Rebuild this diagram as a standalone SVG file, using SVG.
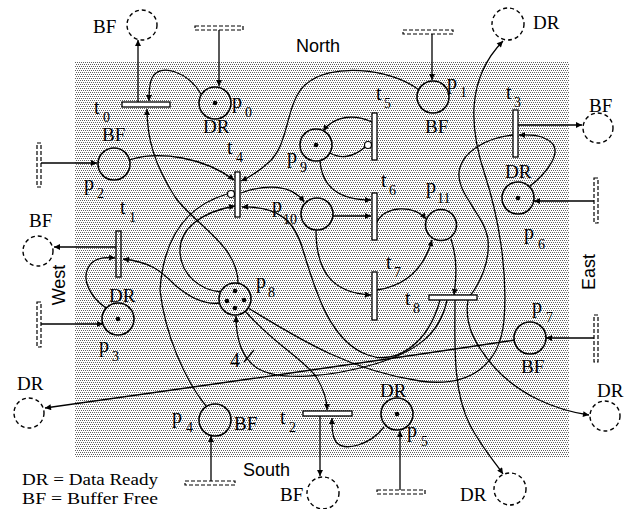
<svg xmlns="http://www.w3.org/2000/svg" width="625" height="509" viewBox="0 0 625 509">
<defs>
<pattern id="dots" width="4" height="4" patternUnits="userSpaceOnUse">
<rect width="4" height="4" fill="#fff"/>
<rect x="0" y="0" width="1" height="1" fill="#606060"/>
<rect x="2" y="0" width="1" height="1" fill="#606060"/>
<rect x="1" y="2" width="1" height="1" fill="#606060"/>
<rect x="3" y="2" width="1" height="1" fill="#606060"/>
</pattern>
<marker id="ah" viewBox="0 0 10 10" refX="10" refY="5" markerWidth="8" markerHeight="6" markerUnits="userSpaceOnUse" orient="auto">
<path d="M0,0 L10,5 L0,10 z" fill="#000"/>
</marker>
<style>
.pl{fill:none;stroke:#000;stroke-width:1.6}
.env{fill:none;stroke:#000;stroke-width:1.4;stroke-dasharray:4 3}
.tr{fill:#fff;stroke:#000;stroke-width:1.3}
.src{fill:none;stroke:#000;stroke-width:1.2;stroke-dasharray:4 2}
.arc{fill:none;stroke:#000;stroke-width:1.3}
.arr{marker-end:url(#ah)}
.tok{fill:#000}
text{font-family:"Liberation Serif","Times New Roman",serif;font-size:19px;fill:#000}
.sans{font-family:"Liberation Sans",Arial,sans-serif;font-size:18px}
.lab{font-size:20px}
.sub{font-size:14px}
.leg{font-size:16px}
</style>
</defs>
<rect id="background" x="75" y="61" width="494" height="397" fill="url(#dots)"/>

<g id="connectors">
<path class="arc arr" d="M201,94 C188,72 160,62 152,78 C149,84 149,92 149,101"/>
<path class="arc arr" d="M138,102 L138,40"/>
<path class="arc arr" d="M219,30 L219,86"/>
<path class="arc arr" d="M238,283 C238,245 195,225 175,197 C155,165 147,140 147,109"/>
<path class="arc arr" d="M41,163 L97,163"/>
<path class="arc arr" d="M129,160 C160,150 205,158 234,180"/>
<path class="arc arr" d="M432,34 L432,80"/>
<path class="arc arr" d="M419,90 C390,68 330,62 305,85 C285,103 290,145 268,163 C258,172 250,177 241,181"/>
<path class="arc arr" d="M241,193 C265,184 292,184 304,202"/>
<path class="arc arr" d="M372,122 C355,114 335,115 323,131"/>
<path class="arc" d="M330,153 C342,160 355,156 365,147"/>
<path class="arc arr" d="M320,160 C322,192 345,200 371,200"/>
<path class="arc arr" d="M333,216 L371,216"/>
<path class="arc arr" d="M377,222 C385,205 415,205 426,219"/>
<path class="arc arr" d="M316,230 C316,275 335,293 371,295"/>
<path class="arc arr" d="M377,290 C410,285 425,265 432,240"/>
<path class="arc arr" d="M451,239 C458,260 456,280 454,295"/>
<path class="arc arr" d="M455,300 C455,340 452,390 470,425 C482,448 495,462 503,474"/>
<path class="arc arr" d="M529,187 C548,172 565,150 548,140 C538,134 528,135 519,135"/>
<path class="arc" d="M513,135 C490,137 462,150 459,172 C457,195 485,215 488,240 C490,262 480,283 470,296"/>
<path class="arc arr" d="M468,300 C464,325 475,345 495,368 C520,395 555,410 589,415"/>
<path class="arc arr" d="M248,308 C290,333 345,370 420,381 C470,388 500,365 504,320 C508,270 498,215 485,175 C470,130 465,80 503,41"/>
<path class="arc arr" d="M440,300 C428,345 395,365 368,355 C330,342 315,290 303,250 C295,222 280,206 242,207"/>
<path class="arc arr" d="M447,300 C440,335 415,352 375,364 C330,377 280,382 257,368 C242,358 236,338 236,316"/>
<path class="arc" d="M244,362 L254,350"/>
<path class="arc arr" d="M245,311 C275,345 305,360 317,378 C324,390 327,400 327,410"/>
<path class="arc arr" d="M320,416 L320,476"/>
<path class="arc arr" d="M384,427 C370,445 345,452 336,442 C332,436 332,428 332,418"/>
<path class="arc arr" d="M400,490 L400,431"/>
<path class="arc arr" d="M211,481 L211,436"/>
<path class="arc" d="M206,406 C185,380 165,335 160,290 C163,245 180,208 227,194"/>
<path class="arc arr" d="M221,292 C200,290 181,275 180,252 C179,230 200,212 235,206"/>
<path class="arc arr" d="M220,303 C205,305 190,298 175,285 C160,270 150,262 123,259"/>
<path class="arc arr" d="M106,308 C90,297 82,280 88,268 C93,258 103,257 115,258"/>
<path class="arc arr" d="M41,324 L103,324"/>
<path class="arc arr" d="M116,247 L54,247"/>
<path class="arc arr" d="M518,125 L582,125"/>
<path class="arc arr" d="M594,201 L534,201"/>
<path class="arc arr" d="M594,338 L546,338"/>
<path class="arc arr" d="M515,340 Q350,365 45,408"/>
</g>

<g id="src-north-p0"><rect class="src" x="195" y="26" width="48" height="4"/></g>
<g id="src-north-p1"><rect class="src" x="403" y="30" width="50" height="4"/></g>
<g id="src-west-p2"><rect class="src" x="37" y="143" width="4" height="44"/></g>
<g id="src-west-p3"><rect class="src" x="37" y="302" width="4" height="45"/></g>
<g id="src-east-p6"><rect class="src" x="594" y="178" width="4" height="45"/></g>
<g id="src-east-p7"><rect class="src" x="594" y="315" width="4" height="47"/></g>
<g id="src-south-p4"><rect class="src" x="185" y="481" width="50" height="4"/></g>
<g id="src-south-p5"><rect class="src" x="377" y="490" width="48" height="4"/></g>

<g id="env-bf-north"><circle class="env" cx="142" cy="25" r="15"/><text x="93" y="33">BF</text></g>
<g id="env-dr-north"><circle class="env" cx="508" cy="24" r="16"/><text x="533" y="29">DR</text></g>
<g id="env-bf-east"><circle class="env" cx="598" cy="128" r="15"/><text x="589" y="112">BF</text></g>
<g id="env-bf-west"><circle class="env" cx="38" cy="251" r="15"/><text x="29" y="227">BF</text></g>
<g id="env-dr-west"><circle class="env" cx="29" cy="413" r="15"/><text x="17" y="390">DR</text></g>
<g id="env-dr-east"><circle class="env" cx="605" cy="416" r="15"/><text x="597" y="397">DR</text></g>
<g id="env-bf-south"><circle class="env" cx="323" cy="493" r="16"/><text x="280" y="501">BF</text></g>
<g id="env-dr-south"><circle class="env" cx="510" cy="489" r="16"/><text x="460" y="501">DR</text></g>

<g id="p0"><circle class="pl" cx="215" cy="103" r="16"/><circle class="tok" cx="215" cy="103" r="2.3"/><text class="lab" x="232" y="108">p<tspan class="sub" x="245" y="117">0</tspan></text><text x="203" y="133">DR</text></g>
<g id="p1"><circle class="pl" cx="433" cy="97" r="16"/><text class="lab" x="447" y="89">p<tspan class="sub" x="460" y="97">1</tspan></text><text x="425" y="133">BF</text></g>
<g id="p2"><circle class="pl" cx="114" cy="164" r="16"/><text class="lab" x="84" y="190">p<tspan class="sub" x="97" y="198">2</tspan></text><text x="102" y="141">BF</text></g>
<g id="p3"><circle class="pl" cx="118" cy="319" r="16"/><circle class="tok" cx="118" cy="319" r="2.3"/><text class="lab" x="99" y="352">p<tspan class="sub" x="112" y="361">3</tspan></text><text x="109" y="302">DR</text></g>
<g id="p4"><circle class="pl" cx="215" cy="420" r="16"/><text class="lab" x="172" y="423">p<tspan class="sub" x="186" y="432">4</tspan></text><text x="234" y="430">BF</text></g>
<g id="p5"><circle class="pl" cx="397" cy="414" r="16"/><circle class="tok" cx="397" cy="414" r="2.3"/><text class="lab" x="407" y="437">p<tspan class="sub" x="421" y="446">5</tspan></text><text x="380" y="397">DR</text></g>
<g id="p6"><circle class="pl" cx="518" cy="198" r="16"/><circle class="tok" cx="518" cy="198" r="2.3"/><text class="lab" x="524" y="239">p<tspan class="sub" x="538" y="249">6</tspan></text><text x="505" y="178">DR</text></g>
<g id="p7"><circle class="pl" cx="530" cy="338" r="16"/><text class="lab" x="532" y="313">p<tspan class="sub" x="546" y="322">7</tspan></text><text x="521" y="373">BF</text></g>
<g id="p8"><circle class="pl" cx="235" cy="299" r="16"/><circle class="tok" cx="235" cy="291" r="2.3"/><circle class="tok" cx="227" cy="301" r="2.3"/><circle class="tok" cx="244" cy="300" r="2.3"/><circle class="tok" cx="235" cy="308" r="2.3"/><text class="lab" x="256" y="288">p<tspan class="sub" x="268" y="297">8</tspan></text><text class="lab" x="230" y="367">4</text></g>
<g id="p9"><circle class="pl" cx="316" cy="145" r="16"/><circle class="tok" cx="316" cy="145" r="2.3"/><text class="lab" x="287" y="163">p<tspan class="sub" x="300" y="172">9</tspan></text></g>
<g id="p10"><circle class="pl" cx="317" cy="214" r="16"/><text class="lab" x="272" y="212">p<tspan class="sub" x="283" y="224">10</tspan></text></g>
<g id="p11"><circle class="pl" cx="441" cy="225" r="15.5"/><text class="lab" x="426" y="193">p<tspan class="sub" x="437" y="203">11</tspan></text></g>

<g id="t0"><rect class="tr" x="122" y="102" width="48" height="5"/><text class="lab" x="94" y="114">t<tspan class="sub" x="103" y="122">0</tspan></text></g>
<g id="t1"><rect x="116" y="231" width="5" height="46" fill="none" stroke="#000" stroke-width="1.3"/><text class="lab" x="120" y="214">t<tspan class="sub" x="129" y="222">1</tspan></text></g>
<g id="t2"><rect class="tr" x="303" y="411" width="49" height="5"/><text class="lab" x="280" y="424">t<tspan class="sub" x="289" y="432">2</tspan></text></g>
<g id="t3"><rect class="tr" x="513" y="110" width="5" height="47"/><text class="lab" x="506" y="99">t<tspan class="sub" x="514" y="107">3</tspan></text></g>
<g id="t4"><rect class="tr" x="235" y="172" width="5" height="45"/><circle cx="231" cy="194" r="3.5" fill="#fff" stroke="#000" stroke-width="1.2"/><text class="lab" x="227" y="154">t<tspan class="sub" x="236" y="162">4</tspan></text></g>
<g id="t5"><rect class="tr" x="372" y="113" width="5" height="47"/><circle cx="368" cy="145" r="3.5" fill="#fff" stroke="#000" stroke-width="1.2"/><text class="lab" x="376" y="100">t<tspan class="sub" x="384" y="108">5</tspan></text></g>
<g id="t6"><rect class="tr" x="372" y="193" width="5" height="47"/><text class="lab" x="381" y="187">t<tspan class="sub" x="389" y="195">6</tspan></text></g>
<g id="t7"><rect class="tr" x="372" y="272" width="5" height="48"/><text class="lab" x="386" y="269">t<tspan class="sub" x="394" y="277">7</tspan></text></g>
<g id="t8"><rect class="tr" x="429" y="295" width="48" height="5"/><text class="lab" x="405" y="305">t<tspan class="sub" x="413" y="313">8</tspan></text></g>

<g id="labels">
<text class="sans" x="296" y="52">North</text>
<text class="sans" x="243" y="476">South</text>
<text class="sans" transform="translate(65,285) rotate(-90)" text-anchor="middle">West</text>
<text class="sans" transform="translate(595,272) rotate(-90)" text-anchor="middle">East</text>
<text class="leg" x="22" y="485" textLength="136" lengthAdjust="spacingAndGlyphs">DR = Data Ready</text>
<text class="leg" x="22" y="504" textLength="136" lengthAdjust="spacingAndGlyphs">BF = Buffer Free</text>
</g>
</svg>
